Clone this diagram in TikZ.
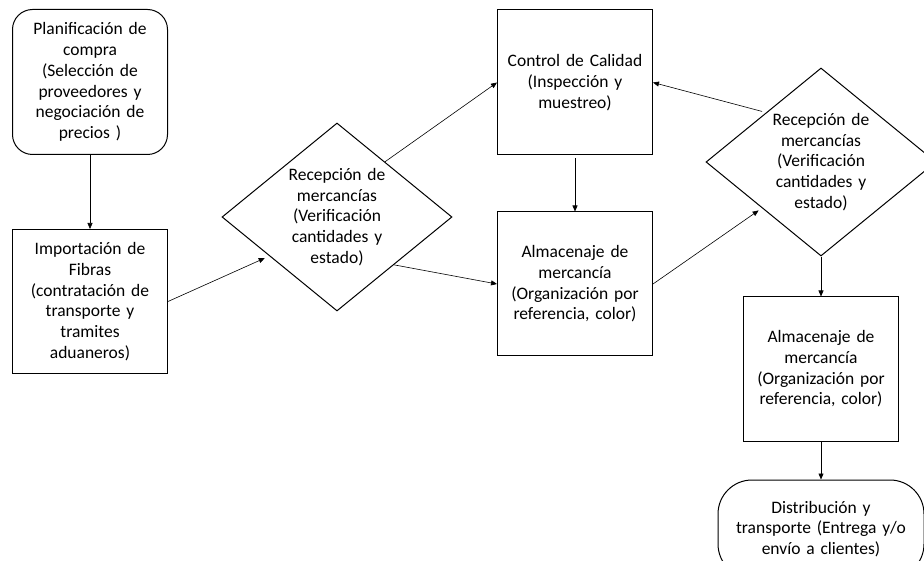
\documentclass[tikz,border=0pt]{standalone}
\usepackage{fontspec}
\setmainfont{Carlito}
\usetikzlibrary{shapes,arrows,positioning,calc,arrows.meta}

\begin{document}
\begin{tikzpicture}[x=1pt, y=-1pt,
        box/.style={rectangle, draw=black, line width=1pt, minimum width=155pt, minimum height=144pt, text width=145pt, inner sep=2pt, align=center, font=\fontsize{17.5}{20.7}\selectfont},
        decision/.style={diamond, draw=black, line width=1pt, shape aspect=1.2, minimum width=230pt, minimum height=188pt, text width=106pt, inner sep=0pt, align=center, font=\fontsize{17.5}{20.7}\selectfont},
        startend/.style={rectangle, draw=black, line width=1pt, rounded corners=20pt, minimum width=155pt, minimum height=145pt, text width=145pt, inner sep=2pt, align=center, font=\fontsize{17.5}{20.7}\selectfont},
        arrow/.style={-{Triangle[length=6pt,width=5pt]}, line width=0.6pt},
      ]
      \useasboundingbox (0,0) rectangle (924,561);
      \node [startend] (plan) at (90,82) {Planificación de\\compra\\(Selección de\\proveedores y\\negociación de\\precios )};
      \node [box, below=74pt of plan] (import) {Importación de\\Fibras\\(contratación de\\transporte y\\tramites\\aduaneros)};
      \node [decision] (recep1) at (337,217) {Recepción de\\mercancías\\(Verificación\\cantidades y\\estado)};
      \node [box, minimum height=145pt] (control) at (575,82.5) {Control de Calidad\\(Inspección y\\muestreo)};
      \node [box, below=56pt of control] (almac1) {Almacenaje de\\mercancía\\(Organización por\\referencia, color)};
      \node [decision] (recep2) at (821,162) {Recepción de\\mercancías\\(Verificación\\cantidades y\\estado)};
      \node [box, below=40pt of recep2] (almac2) {Almacenaje de\\mercancía\\(Organización por\\referencia, color)};
      \node [startend, rounded corners=34pt, minimum width=206pt, minimum height=98pt, text width=195pt, below=38pt of almac2] (distrib) {Distribución y\\transporte (Entrega y/o\\envío a clientes)};
      \draw [arrow] (plan) -- (import);
      \draw [arrow, shorten >=5pt] (import.east) -- (recep1.210);
      \draw [arrow] (recep1.49) -- (control.west);
      \draw [arrow] (recep1.320) -- (almac1.west);
      \draw [arrow, shorten <=3pt] (control.south) -- (control.south |- almac1.north);
      \draw [arrow, shorten >=4pt] (almac1.east) -- (recep2.218);
      \draw [arrow, shorten <=4pt] (recep2.138) -- (control.east);
      \draw [arrow] (recep2) -- (almac2);
      \draw [arrow] (almac2) -- (distrib);
    \end{tikzpicture}
\end{document}
